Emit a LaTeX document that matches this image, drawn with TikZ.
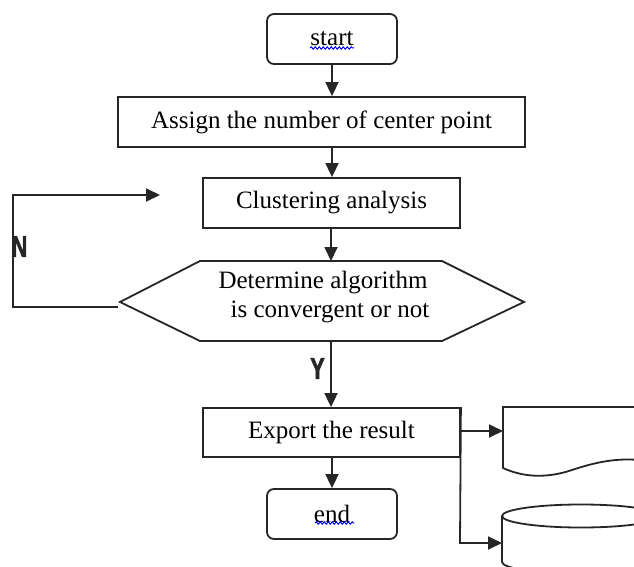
\documentclass[tikz,border=0pt]{standalone}
\usepackage{fontspec}
\setmainfont{Liberation Serif}
\newfontfamily\labelfont{Liberation Sans Bold}[FakeBold=2.5]
\usetikzlibrary{arrows.meta,decorations.pathmorphing}
\begin{document}
\begin{tikzpicture}[x=1pt,y=-1pt,
  line/.style={draw=black!85,line width=1.8pt},
  arr/.style={line,-{Triangle[length=14pt,width=13pt]}},
  procbox/.style={line,rectangle,inner sep=0pt,font=\fontsize{25}{29}\selectfont},
  termbox/.style={procbox,rounded corners=7pt},
  yn/.style={font=\labelfont\fontsize{30}{30}\selectfont,xscale=0.72,inner sep=0pt,text=black!85},
  squig/.style={draw=blue,line width=1pt,decorate,decoration={snake,amplitude=1.2pt,segment length=4pt}}]
\useasboundingbox (0,0) rectangle (634,567);
\clip (0,0) rectangle (634,567);
% nodes
\node[termbox,minimum width=130pt,minimum height=50pt] (start) at (332,39) {start};
\node[procbox,minimum width=407pt,minimum height=50pt] (assign) at (321.5,122) {Assign the number of center point};
\node[procbox,minimum width=257pt,minimum height=50pt] (clust) at (331.5,203) {Clustering analysis};
% hexagon
\coordinate (hexW) at (120,302);
\coordinate (hexE) at (524,302);
\coordinate (hexN) at (331,261);
\coordinate (hexS) at (331,341);
\draw[line,line join=miter] (hexW) -- (200,261) -- (442,261) -- (hexE) -- (442,341) -- (200,341) -- cycle;
\node[font=\fontsize{25}{29}\selectfont,align=center,inner sep=0pt] (hex) at (323,297) {Determine algorithm\\\hspace*{14pt}is convergent or not};
\node[procbox,minimum width=257pt,minimum height=49pt] (export) at (331.5,432.5) {Export the result};
\node[termbox,minimum width=130pt,minimum height=50pt] (end) at (332,514) {end};
% spell-check squiggles
\draw[squig] (310,48) -- (354,48);
\draw[squig] (315,523) -- (354,523);
% labels
\node[yn] (N) at (19.5,246.5) {N};
\node[yn] (Y) at (317.5,368.5) {Y};
% main flow
\draw[arr] (start.south) -- (start.south |- assign.north);
\draw[arr] (start.south |- assign.south) -- (start.south |- clust.north);
\draw[arr] (clust.south -| hexN) -- (hexN);
\draw[arr] (hexS) -- (hexS |- export.north);
\draw[arr] (export.south -| end.north) -- (end.north);
% feedback loop
\coordinate (loopA) at (13,307);
\coordinate (loopB) at (13,195);
\coordinate (loopT) at (160,195);
\draw[arr] (118,307) -- (loopA) -- (loopB) -- (loopT);
% outputs
\coordinate (docL) at (503,431);
\coordinate (cylL) at (502,543);
\coordinate (branch) at (460,543);
\draw[arr] (export.east |- docL) -- (docL);
\draw[arr] (export.north east) -- (branch) -- (cylL);
% document shape
\draw[line] (640,407) -- (503,407) -- (503,468) .. controls (525,478) and (548,478) .. (572,470) .. controls (596,462) and (616,458) .. (640,460);
% cylinder shape
\draw[line] (581,516) ellipse [x radius=79pt, y radius=11.5pt];
\draw[line] (502,516) -- (502,562) arc[start angle=180,end angle=360,x radius=79pt,y radius=11.5pt];
\end{tikzpicture}
\end{document}
